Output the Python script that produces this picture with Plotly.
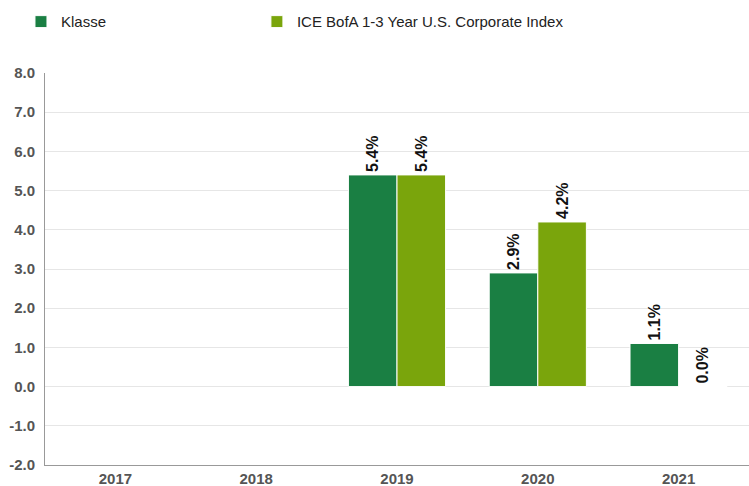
import plotly.graph_objects as go

years = ["2017", "2018", "2019", "2020", "2021"]
klasse = [None, None, 5.4, 2.9, 1.1]
index_vals = [None, None, 5.4, 4.2, 0.0]
series_names = ["Klasse", "ICE BofA 1-3 Year U.S. Corporate Index"]
y_ticks = [-2.0, -1.0, 0.0, 1.0, 2.0, 3.0, 4.0, 5.0, 6.0, 7.0, 8.0]

def labels(vals):
    return ["" if v is None else f"{v:.1f}%" for v in vals]

fig = go.Figure()
for name, vals, color, lg in [(series_names[0], klasse, "#1a7f43", "legend"),
                              (series_names[1], index_vals, "#7aa50c", "legend2")]:
    fig.add_trace(go.Bar(
        x=years, y=vals, name=name, legend=lg, showlegend=True,
        marker=dict(color=color, line=dict(color="#ffffff", width=1)),
        text=labels(vals), textposition="outside", textangle=-90,
        textfont=dict(family="Liberation Sans, Arial", size=16, color="#111111", weight="bold"),
        cliponaxis=False,
    ))

legend_style = dict(orientation="h", xref="container", yref="container", y=0.955,
                    xanchor="left", yanchor="middle",
                    font=dict(size=15, color="#222222"), bgcolor="rgba(0,0,0,0)")

fig.update_layout(
    width=749, height=486, showlegend=True,
    margin=dict(l=45, r=0, t=73, b=21, autoexpand=False),
    paper_bgcolor="white", plot_bgcolor="white",
    barmode="group", bargap=0.31, bargroupgap=0,
    font=dict(family="Liberation Sans, Arial", size=15, color="#555555"),
    legend=dict(x=0.028, **legend_style),
    legend2=dict(x=0.343, **legend_style),
    xaxis=dict(showline=True, linecolor="#999999", linewidth=1, automargin=False,
               tickfont=dict(size=15, color="#555555", weight="bold"),
               ticks="", showgrid=False),
    yaxis=dict(range=[-2, 8], tickvals=y_ticks, ticktext=[f"{v:.1f}" for v in y_ticks],
               showline=True, linecolor="#999999", linewidth=1, automargin=False,
               gridcolor="#e6e6e6", zeroline=False,
               tickfont=dict(size=15, color="#555555", weight="bold"),
               ticks="", ticklabelstandoff=6),
)
fig.write_html("out.html", config={"displayModeBar": False},
               post_script="document.body.style.margin='0';")
